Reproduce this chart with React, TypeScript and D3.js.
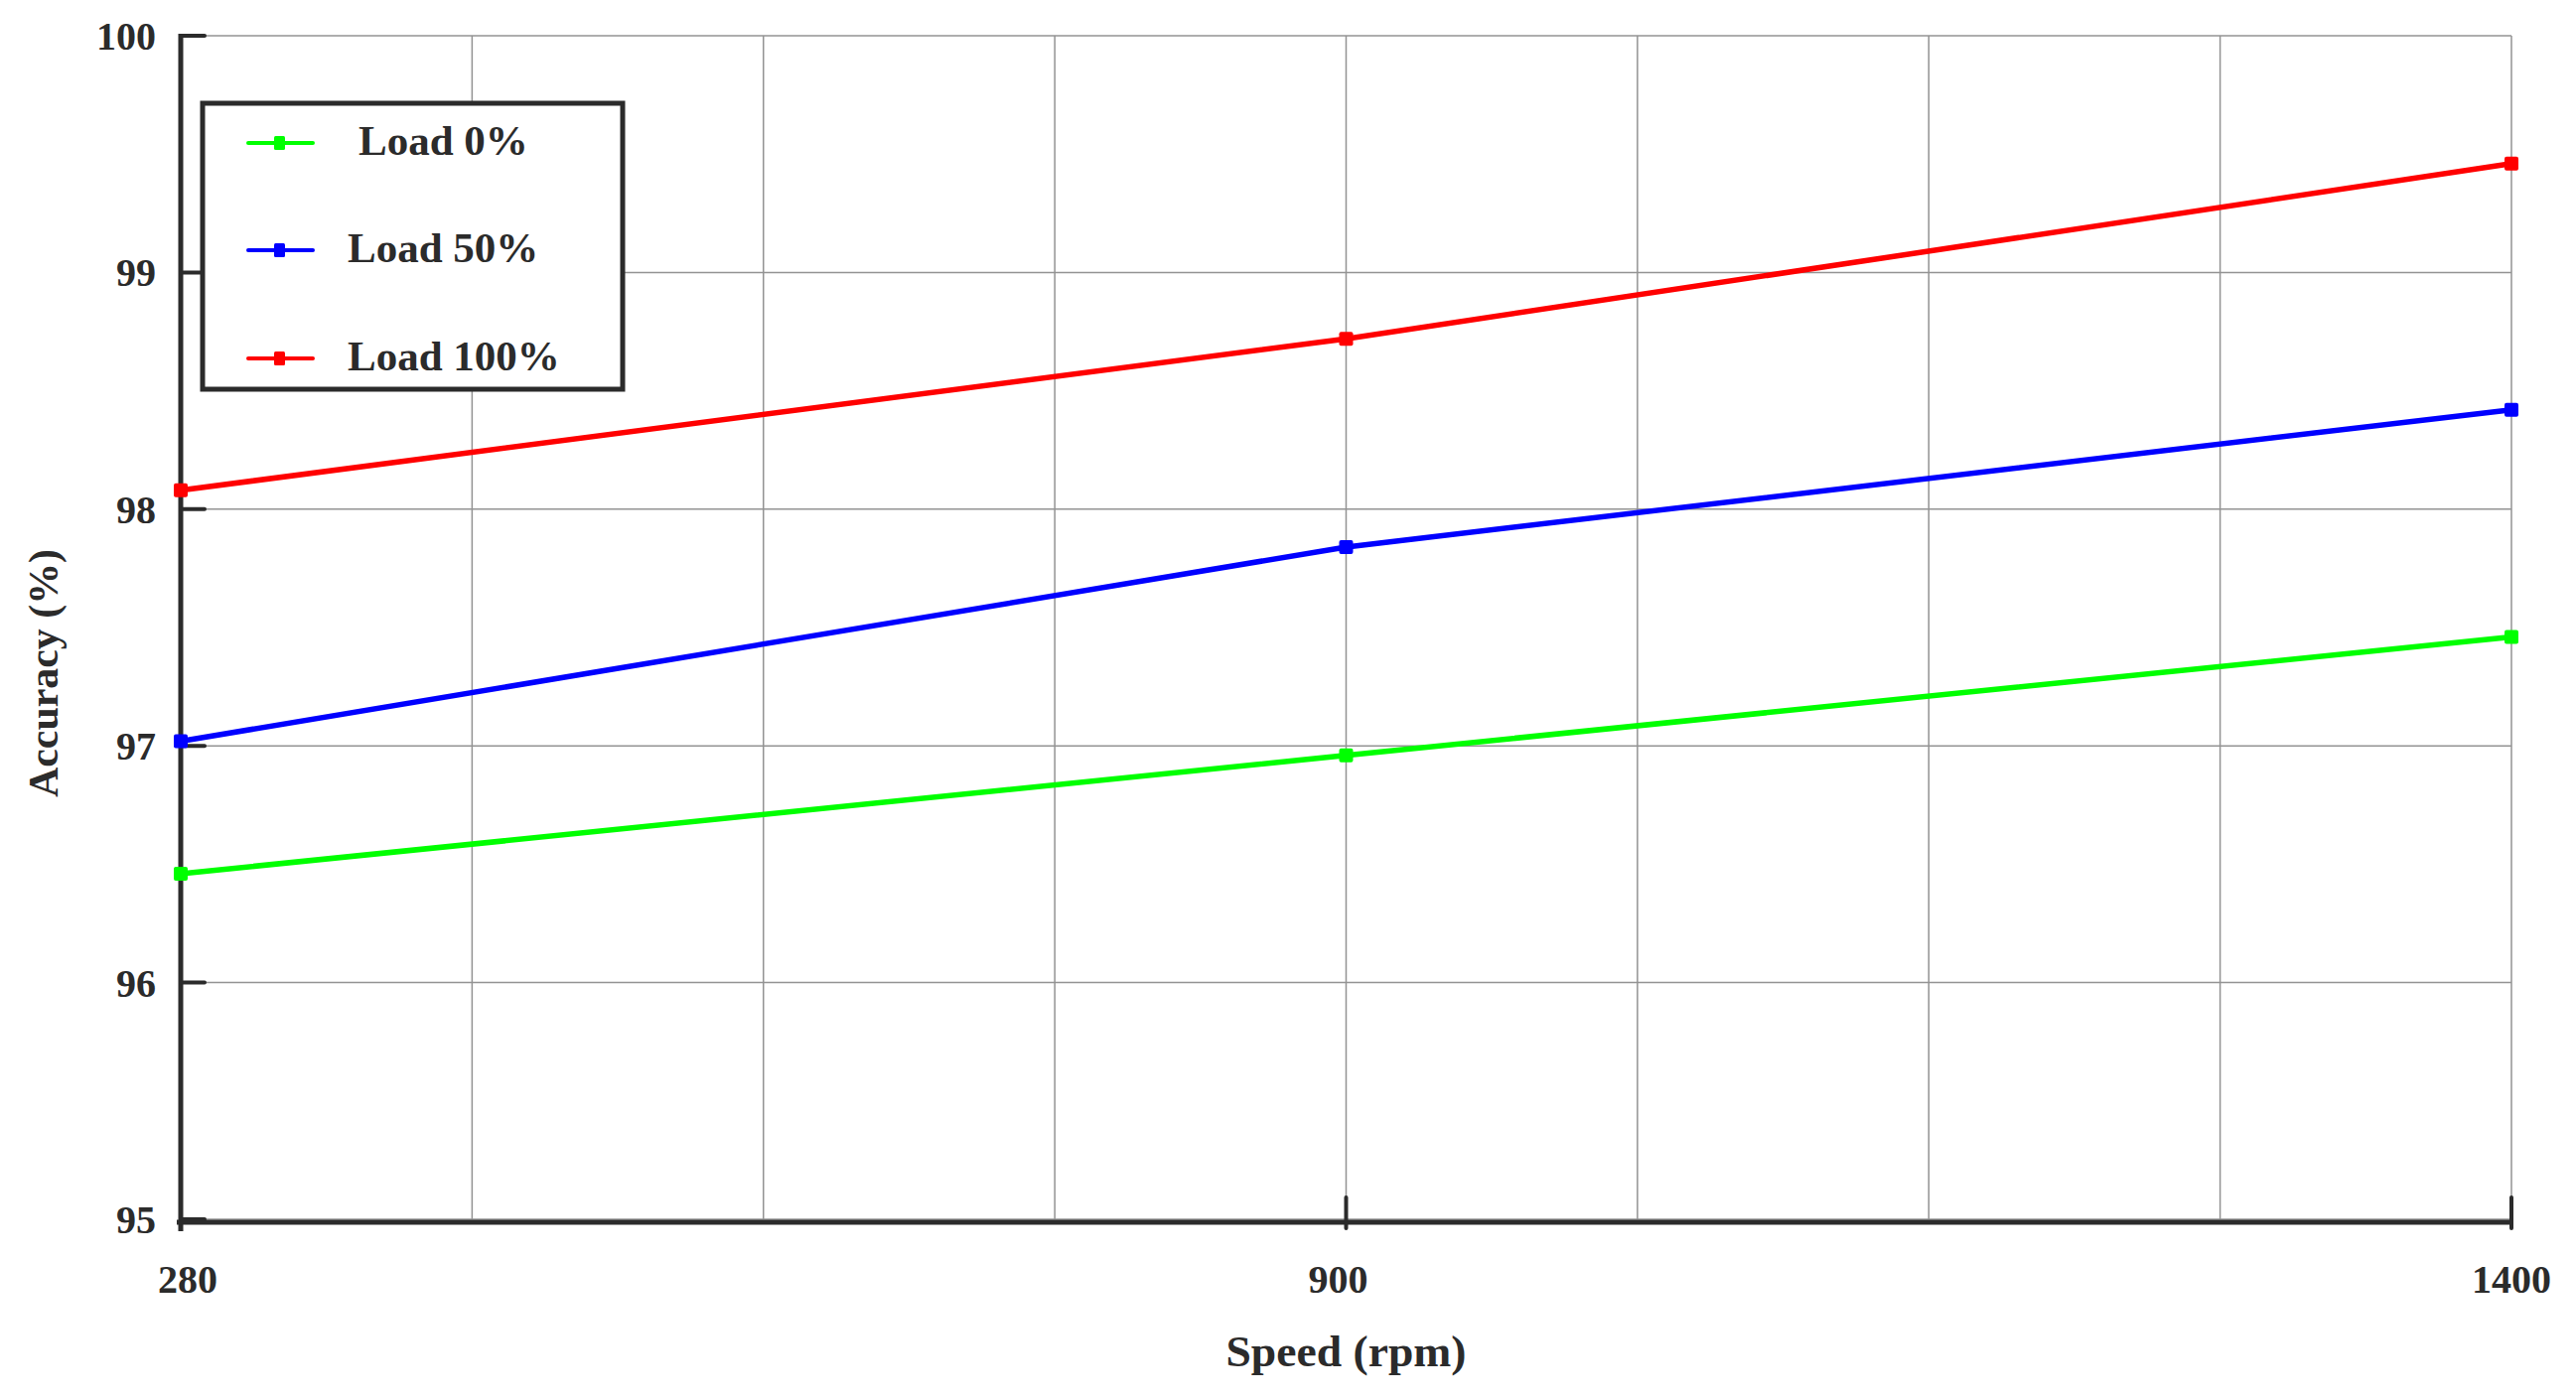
import React, { useEffect, useRef } from "react";
import * as d3 from "d3";

const speeds = ["280", "900", "1400"];
const load0 = [96.46, 96.96, 97.46];
const load50 = [97.02, 97.84, 98.42];
const load100 = [98.08, 98.72, 99.46];
const seriesNames = ["Load 0%", "Load 50%", "Load 100%"];
const seriesColors = ["#00ff00", "#0000ff", "#ff0000"];
const yTicks = [95, 96, 97, 98, 99, 100];

const W = 2594;
const H = 1409;
const FONT = "'Liberation Serif', 'DejaVu Serif', serif";
const AXIS = "#2b2b2b";

const App = () => {
  const svgRef = useRef(null);

  useEffect(() => {
    const svg = d3.select(svgRef.current);
    svg.selectAll("*").remove();

    const margin = { top: 36, right: 65, bottom: 181, left: 182 };
    const x0 = margin.left, x1 = W - margin.right;
    const y0 = H - margin.bottom, y1 = margin.top;

    const x = d3.scalePoint().domain(speeds).range([x0, x1]);
    // equal spaced categories, grid every quarter step
    const xIdx = d3.scaleLinear().domain([0, speeds.length - 1]).range([x0, x1]);
    const y = d3.scaleLinear().domain([95, 100]).range([y0, y1]);

    const g = svg.append("g");

    // grid
    g.selectAll(".vgrid")
      .data(d3.range(0, speeds.length - 1 + 0.001, 0.25))
      .join("line")
      .attr("x1", (d) => xIdx(d)).attr("x2", (d) => xIdx(d))
      .attr("y1", y(100)).attr("y2", y(95))
      .attr("stroke", "#939393").attr("stroke-width", 1.5);
    g.selectAll(".hgrid")
      .data(yTicks)
      .join("line")
      .attr("x1", x0).attr("x2", x1)
      .attr("y1", (d) => y(d)).attr("y2", (d) => y(d))
      .attr("stroke", "#939393").attr("stroke-width", 1.5);

    // axes
    g.append("line")
      .attr("x1", x0).attr("x2", x0).attr("y1", y(100) - 2).attr("y2", y(95) + 12)
      .attr("stroke", AXIS).attr("stroke-width", 5);
    g.append("line")
      .attr("x1", x0 - 4).attr("x2", x1).attr("y1", y(95) + 3).attr("y2", y(95) + 3)
      .attr("stroke", AXIS).attr("stroke-width", 5);

    g.selectAll(".ytick")
      .data(yTicks)
      .join("line")
      .attr("x1", x0).attr("x2", x0 + 24)
      .attr("y1", (d) => y(d)).attr("y2", (d) => y(d))
      .attr("stroke", AXIS).attr("stroke-width", 4).attr("stroke-linecap", "round");
    g.selectAll(".ylab")
      .data(yTicks)
      .join("text")
      .attr("x", x0 - 25).attr("y", (d) => y(d))
      .attr("dy", "0.35em")
      .attr("text-anchor", "end")
      .style("font-family", FONT).style("font-weight", "bold").style("font-size", "40px")
      .attr("fill", AXIS)
      .text((d) => d);

    g.selectAll(".xtick")
      .data(speeds.slice(1))
      .join("line")
      .attr("x1", (d) => x(d)).attr("x2", (d) => x(d))
      .attr("y1", y(95) - 22).attr("y2", y(95) + 9)
      .attr("stroke", AXIS).attr("stroke-width", 4).attr("stroke-linecap", "round");
    g.selectAll(".xlab")
      .data(speeds)
      .join("text")
      .attr("x", (d, i) => x(d) + (i === 0 ? 7 : i === 1 ? -8 : 0))
      .attr("y", 1302)
      .attr("text-anchor", "middle")
      .style("font-family", FONT).style("font-weight", "bold").style("font-size", "40px")
      .attr("fill", AXIS)
      .text((d) => d);

    // axis titles
    g.append("text")
      .attr("x", x(speeds[1])).attr("y", 1376)
      .attr("text-anchor", "middle")
      .style("font-family", FONT).style("font-weight", "bold").style("font-size", "44px")
      .attr("textLength", 242).attr("lengthAdjust", "spacingAndGlyphs")
      .attr("fill", AXIS)
      .text("Speed (rpm)");
    g.append("text")
      .attr("transform", `translate(58,${(y(100) + y(95)) / 2 + 46}) rotate(-90)`)
      .attr("text-anchor", "middle")
      .style("font-family", FONT).style("font-weight", "bold").style("font-size", "42px")
      .attr("textLength", 250).attr("lengthAdjust", "spacingAndGlyphs")
      .attr("fill", AXIS)
      .text("Accuracy (%)");

    // series
    const allSeries = [load0, load50, load100];
    const line = d3.line().x((d, i) => x(speeds[i])).y((d) => y(d));
    allSeries.forEach((vals, si) => {
      g.append("path")
        .datum(vals)
        .attr("d", line)
        .attr("fill", "none")
        .attr("stroke", seriesColors[si])
        .attr("stroke-width", 5.5);
      g.selectAll(".m" + si)
        .data(vals)
        .join("rect")
        .attr("x", (d, i) => x(speeds[i]) - 7)
        .attr("y", (d) => y(d) - 7)
        .attr("width", 14).attr("height", 14).attr("rx", 2)
        .attr("fill", seriesColors[si]);
    });

    // legend
    const leg = g.append("g");
    leg.append("rect")
      .attr("x", 204).attr("y", 104).attr("width", 423).attr("height", 288)
      .attr("fill", "#fff").attr("stroke", AXIS).attr("stroke-width", 5);
    const rowY = [144, 252, 361];
    const textX = [361, 350, 350];
    seriesNames.forEach((name, i) => {
      leg.append("line")
        .attr("x1", 250).attr("x2", 315).attr("y1", rowY[i]).attr("y2", rowY[i])
        .attr("stroke", seriesColors[i]).attr("stroke-width", 4).attr("stroke-linecap", "round");
      leg.append("rect")
        .attr("x", 276).attr("y", rowY[i] - 7).attr("width", 11).attr("height", 14).attr("rx", 1.5)
        .attr("fill", seriesColors[i]);
      leg.append("text")
        .attr("x", textX[i]).attr("y", rowY[i] + 12)
        .style("font-family", FONT).style("font-weight", "bold").style("font-size", "43px")
        .attr("fill", AXIS)
        .text(name);
    });

    return () => {
      svg.selectAll("*").remove();
    };
  }, []);

  return (
    <svg
      ref={svgRef}
      width={W}
      height={H}
      style={{ position: "absolute", left: 0, top: 0, display: "block", background: "#fff" }}
    ></svg>
  );
};

export default App;
